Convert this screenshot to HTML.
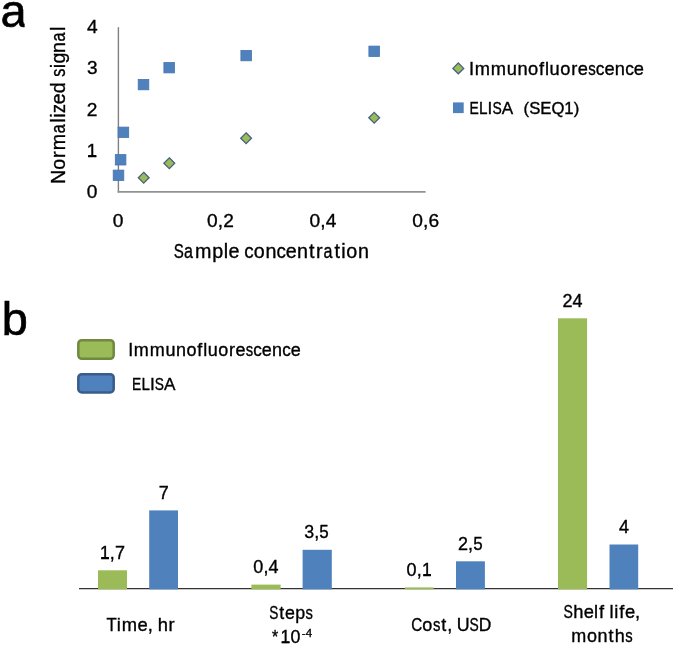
<!DOCTYPE html>
<html><head><meta charset="utf-8">
<title>Immunofluorescence vs ELISA</title>
<style>
html,body{margin:0;padding:0;background:#fff;}
body{width:675px;height:645px;overflow:hidden;}
svg{display:block;will-change:transform;font-family:"Liberation Sans",sans-serif;}
text{fill:#000;stroke:#000;stroke-width:0.35px;}
</style></head>
<body>
<svg width="675" height="645" viewBox="0 0 675 645">
<rect x="0" y="0" width="675" height="645" fill="#fff"/>
<defs><clipPath id="ca"><rect x="0" y="0" width="24.6" height="40"/></clipPath></defs>

<text x="0.4" y="27.3" font-size="47" style="stroke-width:0.7px" clip-path="url(#ca)">a</text>
<text transform="translate(65,182.5) rotate(-90)" y="0.00" font-size="19.65"><tspan x="-1.61" textLength="14.14" lengthAdjust="spacingAndGlyphs">N</tspan><tspan x="12.81" textLength="10.93" lengthAdjust="spacingAndGlyphs">o</tspan><tspan x="24.56" textLength="6.54" lengthAdjust="spacingAndGlyphs">r</tspan><tspan x="32.25" textLength="16.37" lengthAdjust="spacingAndGlyphs">m</tspan><tspan x="49.29" textLength="8.90" lengthAdjust="spacingAndGlyphs">a</tspan><tspan x="59.85" textLength="4.36" lengthAdjust="spacingAndGlyphs">l</tspan><tspan x="64.85" textLength="4.36" lengthAdjust="spacingAndGlyphs">i</tspan><tspan x="69.46" textLength="8.96" lengthAdjust="spacingAndGlyphs">z</tspan><tspan x="78.17" textLength="10.93" lengthAdjust="spacingAndGlyphs">e</tspan><tspan x="89.15" textLength="10.93" lengthAdjust="spacingAndGlyphs">d</tspan><tspan x="100.51"> </tspan><tspan x="105.74" textLength="8.09" lengthAdjust="spacingAndGlyphs">s</tspan><tspan x="114.29" textLength="4.36" lengthAdjust="spacingAndGlyphs">i</tspan><tspan x="119.03" textLength="10.93" lengthAdjust="spacingAndGlyphs">g</tspan><tspan x="129.60" textLength="10.93" lengthAdjust="spacingAndGlyphs">n</tspan><tspan x="140.95" textLength="8.90" lengthAdjust="spacingAndGlyphs">a</tspan><tspan x="151.51" textLength="4.36" lengthAdjust="spacingAndGlyphs">l</tspan></text>
<text y="33.00" font-size="19.17"><tspan x="86.93" textLength="10.66" lengthAdjust="spacingAndGlyphs">4</tspan></text>
<text y="74.20" font-size="19.17"><tspan x="86.98" textLength="10.55" lengthAdjust="spacingAndGlyphs">3</tspan></text>
<text y="115.50" font-size="19.17"><tspan x="86.87" textLength="10.66" lengthAdjust="spacingAndGlyphs">2</tspan></text>
<text y="156.90" font-size="19.17"><tspan x="86.79" textLength="10.32" lengthAdjust="spacingAndGlyphs">1</tspan></text><rect x="88.20" y="155.09" width="8.00" height="1.81" fill="#000"/>
<text y="198.10" font-size="19.17"><tspan x="86.87" textLength="10.66" lengthAdjust="spacingAndGlyphs">0</tspan></text>
<line x1="118.4" y1="27.2" x2="118.4" y2="192.6" stroke="#808080" stroke-width="1.4"/>
<line x1="117.7" y1="191.8" x2="425.6" y2="191.8" stroke="#929292" stroke-width="1.8"/>
<text y="226.70" font-size="19.17"><tspan x="112.87" textLength="10.66" lengthAdjust="spacingAndGlyphs">0</tspan></text>
<text y="226.70" font-size="19.17"><tspan x="206.99" textLength="10.66" lengthAdjust="spacingAndGlyphs">0</tspan><tspan x="217.74" textLength="5.33" lengthAdjust="spacingAndGlyphs">,</tspan><tspan x="223.13" textLength="10.66" lengthAdjust="spacingAndGlyphs">2</tspan></text>
<text y="226.70" font-size="19.17"><tspan x="309.52" textLength="10.66" lengthAdjust="spacingAndGlyphs">0</tspan><tspan x="320.26" textLength="5.33" lengthAdjust="spacingAndGlyphs">,</tspan><tspan x="325.69" textLength="10.66" lengthAdjust="spacingAndGlyphs">4</tspan></text>
<text y="226.70" font-size="19.17"><tspan x="412.31" textLength="10.66" lengthAdjust="spacingAndGlyphs">0</tspan><tspan x="423.06" textLength="5.33" lengthAdjust="spacingAndGlyphs">,</tspan><tspan x="428.46" textLength="10.66" lengthAdjust="spacingAndGlyphs">6</tspan></text>
<text y="258.00" font-size="19.71"><tspan x="173.71" textLength="10.08" lengthAdjust="spacingAndGlyphs">S</tspan><tspan x="184.09" textLength="8.93" lengthAdjust="spacingAndGlyphs">a</tspan><tspan x="194.98" textLength="16.42" lengthAdjust="spacingAndGlyphs">m</tspan><tspan x="212.27" textLength="10.96" lengthAdjust="spacingAndGlyphs">p</tspan><tspan x="223.68" textLength="4.38" lengthAdjust="spacingAndGlyphs">l</tspan><tspan x="228.38" textLength="10.96" lengthAdjust="spacingAndGlyphs">e</tspan><tspan x="239.29"> </tspan><tspan x="244.18" textLength="9.39" lengthAdjust="spacingAndGlyphs">c</tspan><tspan x="253.79" textLength="10.96" lengthAdjust="spacingAndGlyphs">o</tspan><tspan x="265.39" textLength="10.96" lengthAdjust="spacingAndGlyphs">n</tspan><tspan x="276.49" textLength="9.39" lengthAdjust="spacingAndGlyphs">c</tspan><tspan x="285.81" textLength="10.96" lengthAdjust="spacingAndGlyphs">e</tspan><tspan x="297.05" textLength="10.96" lengthAdjust="spacingAndGlyphs">n</tspan><tspan x="309.06" textLength="5.48" lengthAdjust="spacingAndGlyphs">t</tspan><tspan x="316.08" textLength="6.56" lengthAdjust="spacingAndGlyphs">r</tspan><tspan x="323.40" textLength="8.93" lengthAdjust="spacingAndGlyphs">a</tspan><tspan x="334.52" textLength="5.48" lengthAdjust="spacingAndGlyphs">t</tspan><tspan x="341.33" textLength="4.38" lengthAdjust="spacingAndGlyphs">i</tspan><tspan x="346.33" textLength="10.96" lengthAdjust="spacingAndGlyphs">o</tspan><tspan x="357.93" textLength="10.96" lengthAdjust="spacingAndGlyphs">n</tspan></text>
<g fill="#4F81BD" stroke="#4674B2" stroke-width="0.8">
<rect x="113.2" y="170.1" width="10.6" height="10.4"/>
<rect x="115.3" y="154.6" width="10.6" height="10.4"/>
<rect x="118.1" y="127.1" width="10.6" height="10.4"/>
<rect x="138.2" y="79.4" width="10.6" height="10.4"/>
<rect x="163.9" y="62.5" width="10.6" height="10.4"/>
<rect x="240.9" y="50.4" width="10.6" height="10.4"/>
<rect x="368.9" y="46.1" width="10.6" height="10.4"/>
</g>
<g fill="#9BBB59" stroke="#46627F" stroke-width="1.3">
<path d="M143.7,172.3 L149.1,177.7 L143.7,183.1 L138.3,177.7Z"/>
<path d="M169.3,157.8 L174.7,163.2 L169.3,168.6 L163.9,163.2Z"/>
<path d="M246.1,132.8 L251.5,138.2 L246.1,143.6 L240.7,138.2Z"/>
<path d="M374.2,112.4 L379.6,117.8 L374.2,123.2 L368.8,117.8Z"/>
</g>
<path d="M458.3,63 L463.7,68.4 L458.3,73.8 L452.9,68.4Z" fill="#9BBB59" stroke="#46627F" stroke-width="1.3"/>
<rect x="453" y="102.4" width="10.7" height="10.7" fill="#4F81BD"/>
<text y="74.60" font-size="18.27"><tspan x="468.96" textLength="5.08" lengthAdjust="spacingAndGlyphs">I</tspan><tspan x="474.63" textLength="15.22" lengthAdjust="spacingAndGlyphs">m</tspan><tspan x="490.85" textLength="15.22" lengthAdjust="spacingAndGlyphs">m</tspan><tspan x="506.68" textLength="10.16" lengthAdjust="spacingAndGlyphs">u</tspan><tspan x="517.47" textLength="10.16" lengthAdjust="spacingAndGlyphs">n</tspan><tspan x="528.09" textLength="10.16" lengthAdjust="spacingAndGlyphs">o</tspan><tspan x="538.99" textLength="5.08" lengthAdjust="spacingAndGlyphs">f</tspan><tspan x="545.02" textLength="4.06" lengthAdjust="spacingAndGlyphs">l</tspan><tspan x="549.57" textLength="10.16" lengthAdjust="spacingAndGlyphs">u</tspan><tspan x="560.32" textLength="10.16" lengthAdjust="spacingAndGlyphs">o</tspan><tspan x="571.24" textLength="6.08" lengthAdjust="spacingAndGlyphs">r</tspan><tspan x="577.82" textLength="10.16" lengthAdjust="spacingAndGlyphs">e</tspan><tspan x="588.20" textLength="7.52" lengthAdjust="spacingAndGlyphs">s</tspan><tspan x="595.81" textLength="8.70" lengthAdjust="spacingAndGlyphs">c</tspan><tspan x="604.45" textLength="10.16" lengthAdjust="spacingAndGlyphs">e</tspan><tspan x="614.87" textLength="10.16" lengthAdjust="spacingAndGlyphs">n</tspan><tspan x="625.16" textLength="8.70" lengthAdjust="spacingAndGlyphs">c</tspan><tspan x="633.80" textLength="10.16" lengthAdjust="spacingAndGlyphs">e</tspan></text>
<text y="113.50" font-size="17.10"><tspan x="469.46" textLength="9.29" lengthAdjust="spacingAndGlyphs">E</tspan><tspan x="479.09" textLength="8.53" lengthAdjust="spacingAndGlyphs">L</tspan><tspan x="487.60" textLength="4.75" lengthAdjust="spacingAndGlyphs">I</tspan><tspan x="492.42" textLength="9.26" lengthAdjust="spacingAndGlyphs">S</tspan><tspan x="501.86" textLength="11.41" lengthAdjust="spacingAndGlyphs">A</tspan></text>
<text x="523.6" y="114.3" font-size="16.2" textLength="55.6" lengthAdjust="spacingAndGlyphs">(SEQ1)</text>
<text x="1.8" y="334.6" font-size="46.8" style="stroke-width:0.7px">b</text>
<rect x="78.3" y="340.2" width="35.4" height="18.6" rx="3.5" fill="#9BBB59" stroke="#71893F" stroke-width="2.5"/>
<rect x="78.3" y="374.2" width="35.4" height="18.2" rx="3.5" fill="#4F81BD" stroke="#385D8A" stroke-width="2.5"/>
<text y="355.80" font-size="18.00"><tspan x="128.29" textLength="5.00" lengthAdjust="spacingAndGlyphs">I</tspan><tspan x="133.87" textLength="14.99" lengthAdjust="spacingAndGlyphs">m</tspan><tspan x="149.85" textLength="14.99" lengthAdjust="spacingAndGlyphs">m</tspan><tspan x="165.45" textLength="10.01" lengthAdjust="spacingAndGlyphs">u</tspan><tspan x="176.08" textLength="10.01" lengthAdjust="spacingAndGlyphs">n</tspan><tspan x="186.55" textLength="10.01" lengthAdjust="spacingAndGlyphs">o</tspan><tspan x="197.28" textLength="5.00" lengthAdjust="spacingAndGlyphs">f</tspan><tspan x="203.22" textLength="4.00" lengthAdjust="spacingAndGlyphs">l</tspan><tspan x="207.71" textLength="10.01" lengthAdjust="spacingAndGlyphs">u</tspan><tspan x="218.29" textLength="10.01" lengthAdjust="spacingAndGlyphs">o</tspan><tspan x="229.06" textLength="5.99" lengthAdjust="spacingAndGlyphs">r</tspan><tspan x="235.54" textLength="10.01" lengthAdjust="spacingAndGlyphs">e</tspan><tspan x="245.77" textLength="7.41" lengthAdjust="spacingAndGlyphs">s</tspan><tspan x="253.26" textLength="8.57" lengthAdjust="spacingAndGlyphs">c</tspan><tspan x="261.77" textLength="10.01" lengthAdjust="spacingAndGlyphs">e</tspan><tspan x="272.03" textLength="10.01" lengthAdjust="spacingAndGlyphs">n</tspan><tspan x="282.18" textLength="8.57" lengthAdjust="spacingAndGlyphs">c</tspan><tspan x="290.68" textLength="10.01" lengthAdjust="spacingAndGlyphs">e</tspan></text>
<text y="389.60" font-size="17.30"><tspan x="132.07" textLength="9.20" lengthAdjust="spacingAndGlyphs">E</tspan><tspan x="141.60" textLength="8.44" lengthAdjust="spacingAndGlyphs">L</tspan><tspan x="149.98" textLength="4.81" lengthAdjust="spacingAndGlyphs">I</tspan><tspan x="154.80" textLength="9.16" lengthAdjust="spacingAndGlyphs">S</tspan><tspan x="164.08" textLength="11.44" lengthAdjust="spacingAndGlyphs">A</tspan></text>
<line x1="79" y1="588.6" x2="673" y2="588.6" stroke="#333" stroke-width="1.3"/>
<g fill="#9BBB59">
<rect x="98.0" y="570.3" width="29.0" height="19.1"/>
<rect x="251.4" y="584.6" width="29.2" height="4.8"/>
<rect x="404.9" y="587.4" width="28.8" height="2.0"/>
<rect x="558.0" y="318.3" width="29.1" height="271.1"/>
</g><g fill="#4F81BD">
<rect x="149.2" y="510.4" width="28.8" height="79.0"/>
<rect x="302.6" y="549.8" width="29.2" height="39.6"/>
<rect x="456.0" y="561.3" width="28.9" height="28.1"/>
<rect x="609.5" y="544.5" width="28.7" height="44.9"/>
</g>
<text y="558.70" font-size="18.00"><tspan x="99.98" textLength="9.69" lengthAdjust="spacingAndGlyphs">1</tspan><tspan x="109.73" textLength="5.00" lengthAdjust="spacingAndGlyphs">,</tspan><tspan x="114.91" textLength="10.01" lengthAdjust="spacingAndGlyphs">7</tspan></text><rect x="101.30" y="557.00" width="7.51" height="1.70" fill="#000"/>
<text y="498.60" font-size="18.00"><tspan x="158.74" textLength="10.01" lengthAdjust="spacingAndGlyphs">7</tspan></text>
<text y="573.40" font-size="18.00"><tspan x="253.34" textLength="10.01" lengthAdjust="spacingAndGlyphs">0</tspan><tspan x="263.43" textLength="5.00" lengthAdjust="spacingAndGlyphs">,</tspan><tspan x="268.53" textLength="10.01" lengthAdjust="spacingAndGlyphs">4</tspan></text>
<text y="538.30" font-size="18.00"><tspan x="304.24" textLength="9.91" lengthAdjust="spacingAndGlyphs">3</tspan><tspan x="314.15" textLength="5.00" lengthAdjust="spacingAndGlyphs">,</tspan><tspan x="319.35" textLength="9.44" lengthAdjust="spacingAndGlyphs">5</tspan></text>
<text y="575.80" font-size="18.00"><tspan x="406.62" textLength="10.01" lengthAdjust="spacingAndGlyphs">0</tspan><tspan x="416.71" textLength="5.00" lengthAdjust="spacingAndGlyphs">,</tspan><tspan x="422.09" textLength="9.69" lengthAdjust="spacingAndGlyphs">1</tspan></text><rect x="423.41" y="574.10" width="7.51" height="1.70" fill="#000"/>
<text y="549.80" font-size="18.00"><tspan x="458.05" textLength="10.01" lengthAdjust="spacingAndGlyphs">2</tspan><tspan x="468.12" textLength="5.00" lengthAdjust="spacingAndGlyphs">,</tspan><tspan x="473.32" textLength="9.44" lengthAdjust="spacingAndGlyphs">5</tspan></text>
<text y="306.60" font-size="18.00"><tspan x="562.42" textLength="10.01" lengthAdjust="spacingAndGlyphs">2</tspan><tspan x="572.59" textLength="10.01" lengthAdjust="spacingAndGlyphs">4</tspan></text>
<text y="532.80" font-size="18.00"><tspan x="619.00" textLength="10.01" lengthAdjust="spacingAndGlyphs">4</tspan></text>
<text y="630.90" font-size="18.36"><tspan x="106.42" textLength="10.22" lengthAdjust="spacingAndGlyphs">T</tspan><tspan x="116.79" textLength="4.08" lengthAdjust="spacingAndGlyphs">i</tspan><tspan x="121.76" textLength="15.29" lengthAdjust="spacingAndGlyphs">m</tspan><tspan x="137.47" textLength="10.21" lengthAdjust="spacingAndGlyphs">e</tspan><tspan x="147.65" textLength="5.10" lengthAdjust="spacingAndGlyphs">,</tspan><tspan x="152.72"> </tspan><tspan x="157.63" textLength="10.21" lengthAdjust="spacingAndGlyphs">h</tspan><tspan x="168.54" textLength="6.11" lengthAdjust="spacingAndGlyphs">r</tspan></text>
<text y="618.60" font-size="17.82"><tspan x="269.28" textLength="9.12" lengthAdjust="spacingAndGlyphs">S</tspan><tspan x="279.23" textLength="4.95" lengthAdjust="spacingAndGlyphs">t</tspan><tspan x="285.09" textLength="9.91" lengthAdjust="spacingAndGlyphs">e</tspan><tspan x="295.32" textLength="9.91" lengthAdjust="spacingAndGlyphs">p</tspan><tspan x="305.62" textLength="7.34" lengthAdjust="spacingAndGlyphs">s</tspan></text>
<text y="643.10" font-size="17.80"><tspan x="272.04" textLength="6.21" lengthAdjust="spacingAndGlyphs">*</tspan><tspan x="280.54" textLength="9.69" lengthAdjust="spacingAndGlyphs">1</tspan><tspan x="290.40" textLength="9.90" lengthAdjust="spacingAndGlyphs">0</tspan></text><rect x="281.87" y="641.40" width="7.51" height="1.70" fill="#000"/>
<text y="636.80" font-size="11.52"><tspan x="301.68" textLength="3.84" lengthAdjust="spacingAndGlyphs">-</tspan><tspan x="305.63" textLength="6.41" lengthAdjust="spacingAndGlyphs">4</tspan></text>
<text y="630.70" font-size="18.05"><tspan x="411.23" textLength="11.00" lengthAdjust="spacingAndGlyphs">C</tspan><tspan x="422.31" textLength="10.04" lengthAdjust="spacingAndGlyphs">o</tspan><tspan x="432.89" textLength="7.44" lengthAdjust="spacingAndGlyphs">s</tspan><tspan x="441.24" textLength="5.02" lengthAdjust="spacingAndGlyphs">t</tspan><tspan x="447.20" textLength="5.02" lengthAdjust="spacingAndGlyphs">,</tspan><tspan x="452.19"> </tspan><tspan x="456.72" textLength="12.88" lengthAdjust="spacingAndGlyphs">U</tspan><tspan x="469.50" textLength="9.24" lengthAdjust="spacingAndGlyphs">S</tspan><tspan x="478.74" textLength="12.58" lengthAdjust="spacingAndGlyphs">D</tspan></text>
<text y="618.20" font-size="18.36"><tspan x="563.46" textLength="9.39" lengthAdjust="spacingAndGlyphs">S</tspan><tspan x="573.23" textLength="10.21" lengthAdjust="spacingAndGlyphs">h</tspan><tspan x="583.64" textLength="10.21" lengthAdjust="spacingAndGlyphs">e</tspan><tspan x="594.09" textLength="4.08" lengthAdjust="spacingAndGlyphs">l</tspan><tspan x="598.94" textLength="5.10" lengthAdjust="spacingAndGlyphs">f</tspan><tspan x="604.70"> </tspan><tspan x="609.61" textLength="4.08" lengthAdjust="spacingAndGlyphs">l</tspan><tspan x="614.29" textLength="4.08" lengthAdjust="spacingAndGlyphs">i</tspan><tspan x="619.14" textLength="5.10" lengthAdjust="spacingAndGlyphs">f</tspan><tspan x="624.89" textLength="10.21" lengthAdjust="spacingAndGlyphs">e</tspan><tspan x="635.07" textLength="5.10" lengthAdjust="spacingAndGlyphs">,</tspan></text>
<text y="642.40" font-size="18.00"><tspan x="571.23" textLength="14.99" lengthAdjust="spacingAndGlyphs">m</tspan><tspan x="586.91" textLength="10.01" lengthAdjust="spacingAndGlyphs">o</tspan><tspan x="597.50" textLength="10.01" lengthAdjust="spacingAndGlyphs">n</tspan><tspan x="608.46" textLength="5.00" lengthAdjust="spacingAndGlyphs">t</tspan><tspan x="614.69" textLength="10.01" lengthAdjust="spacingAndGlyphs">h</tspan><tspan x="625.17" textLength="7.41" lengthAdjust="spacingAndGlyphs">s</tspan></text>
</svg>
</body></html>
